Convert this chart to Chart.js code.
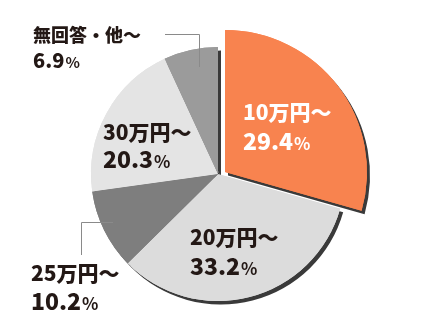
<!DOCTYPE html>
<html>
<head>
<meta charset="utf-8">
<script src="https://cdn.jsdelivr.net/npm/chart.js@4/dist/chart.umd.min.js"></script>
<style>
  html, body { margin: 0; padding: 0; background: #ffffff; }
  #c { display: block; }
</style>
</head>
<body>
<canvas id="c" width="440" height="333"></canvas>
<script>
// ---- data ----
const categories = ['10万円～', '20万円～', '25万円～', '30万円～', '無回答・他～'];
const values = [29.4, 33.2, 10.2, 20.3, 6.9];
const valueLabels = ['29.4', '33.2', '10.2', '20.3', '6.9'];

// ---- styles ----
const colors = ['#f8834f', '#dcdcdc', '#7e7e7e', '#e4e4e4', '#9b9b9b'];
const textColors = ['#ffffff', '#231815', '#231815', '#231815', '#231815'];
const fontSizes = [21, 21, 21, 21, 18];
// label anchors: [left x, baseline line1, baseline line2]
const labelPos = [
  [243, 120, 150],
  [190, 245, 275],
  [31, 281, 310],
  [103, 140, 168],
  [33, 42, 68]
];
const leaders = [
  null, null,
  [[113, 222.5], [81.5, 222.5], [81.5, 255]],
  null,
  [[165, 34.5], [199.5, 34.5], [199.5, 67]]
];

const FONT = '"Noto Sans CJK JP", "Noto Sans", sans-serif';

const explodePlugin = {
  id: 'explode',
  afterDatasetUpdate(chart, args) {
    const el = args.meta.data[0];
    if (el && !el._exploded) {
      el.x += 7;
      el.y -= 2;
      el.outerRadius = el.outerRadius * 1.118;
      el._exploded = true;
    }
  }
};

const shadowPlugin = {
  id: 'shadow',
  beforeDatasetsDraw(chart) {
    const ctx = chart.ctx;
    const meta = chart.getDatasetMeta(0);
    ctx.save();
    ctx.shadowColor = '#3a3a3a';
    ctx.shadowOffsetX = 3;
    ctx.shadowOffsetY = 3.5;
    ctx.shadowBlur = 0;
    meta.data.forEach(el => el.draw(ctx));
    ctx.restore();
  }
};

const labelPlugin = {
  id: 'labels',
  afterDatasetsDraw(chart) {
    const ctx = chart.ctx;
    ctx.save();
    // leader lines
    ctx.strokeStyle = '#8a8a8a';
    ctx.lineWidth = 1;
    leaders.forEach(pts => {
      if (!pts) return;
      ctx.beginPath();
      ctx.moveTo(pts[0][0], pts[0][1]);
      for (let i = 1; i < pts.length; i++) ctx.lineTo(pts[i][0], pts[i][1]);
      ctx.stroke();
    });
    ctx.textBaseline = 'alphabetic';
    ctx.textAlign = 'left';
    categories.forEach((cat, i) => {
      const [x, b1, b2] = labelPos[i];
      const fs = fontSizes[i];
      const nfs = Math.round(fs * 1.1);
      ctx.fillStyle = textColors[i];
      ctx.font = `900 ${fs}px ${FONT}`;
      ctx.fillText(cat, x, b1);
      const v = valueLabels[i];
      ctx.font = `900 ${nfs}px ${FONT}`;
      ctx.fillText(v, x, b2);
      const w = ctx.measureText(v).width;
      ctx.font = `bold ${Math.round(nfs * 0.75)}px ${FONT}`;
      ctx.fillText('%', x + w + 1, b2);
    });
    ctx.restore();
  }
};

new Chart(document.getElementById('c'), {
  type: 'pie',
  data: {
    labels: categories,
    datasets: [{
      data: values,
      backgroundColor: colors,
      borderWidth: 0
    }]
  },
  options: {
    responsive: false,
    animation: false,
    events: [],
    radius: 127,
    layout: { padding: { left: 0, right: 4, top: 15, bottom: 0 } },
    plugins: {
      legend: { display: false },
      tooltip: { enabled: false }
    }
  },
  plugins: [explodePlugin, shadowPlugin, labelPlugin]
});
</script>
</body>
</html>
